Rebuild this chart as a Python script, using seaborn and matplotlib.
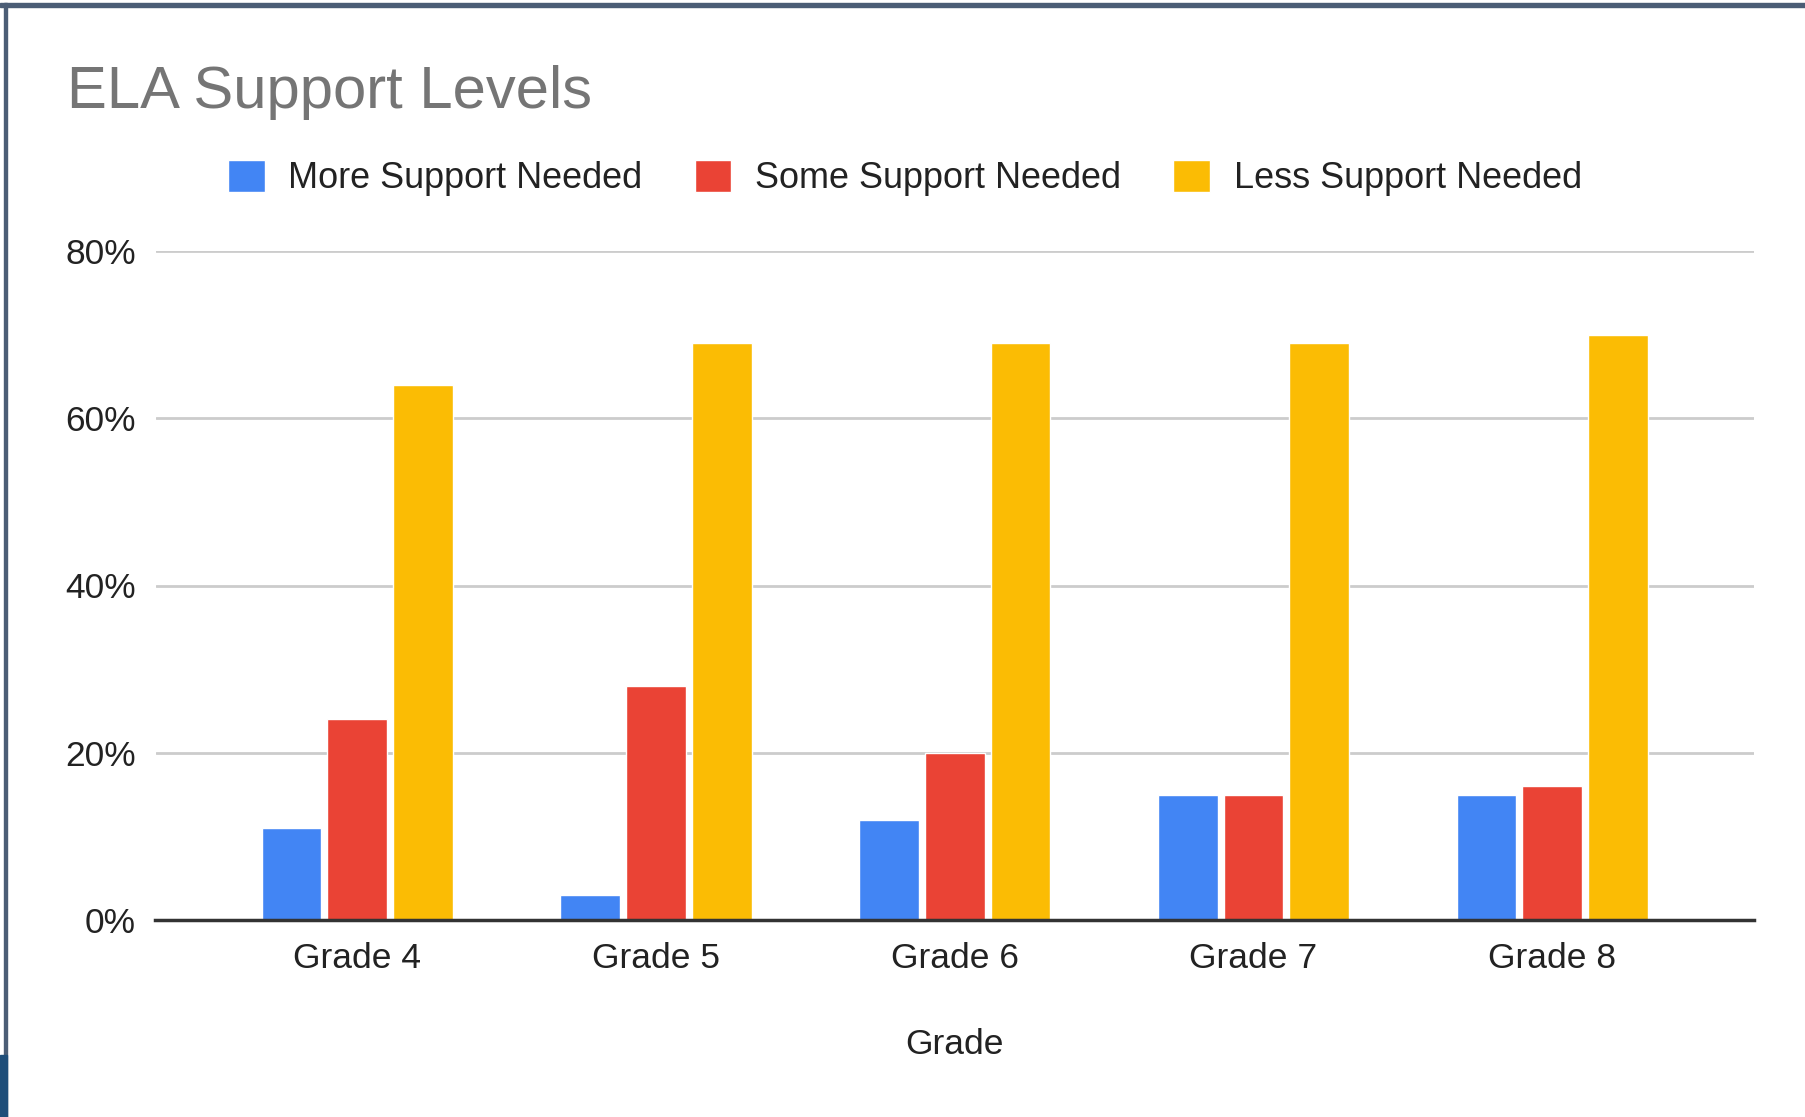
import matplotlib
matplotlib.use("Agg")
import matplotlib.pyplot as plt
import seaborn as sns
import pandas as pd
from matplotlib.patches import Rectangle
from matplotlib.ticker import FuncFormatter

grades = ["Grade 4", "Grade 5", "Grade 6", "Grade 7", "Grade 8"]
series = ["More Support Needed", "Some Support Needed", "Less Support Needed"]
more_support = [11, 3, 12, 15, 15]
some_support = [24, 28, 20, 15, 16]
less_support = [64, 69, 69, 69, 70]
colors = ["#4285F4", "#EA4335", "#FBBC04"]
yticks = [0, 20, 40, 60, 80]

rows = []
for s, vals in zip(series, [more_support, some_support, less_support]):
    for g, v in zip(grades, vals):
        rows.append({"Grade": g, "Series": s, "Value": v})
df = pd.DataFrame(rows)

sns.set_theme(style="white")
plt.rcParams['font.family'] = ['Liberation Sans', 'DejaVu Sans']

W, H = 1806, 1117
fig = plt.figure(figsize=(W / 100, H / 100), dpi=100)
ax = fig.add_axes([155.5 / W, 1 - 920 / H, (1754 - 155.5) / W, (920 - 251) / H])

sns.barplot(data=df, x="Grade", y="Value", hue="Series", hue_order=series,
            order=grades, palette=colors, width=0.66, gap=0.09,
            saturation=1, ax=ax, legend=True, errorbar=None)

ax.set_ylim(0, 80)
ax.set_xlim(-0.675, 4.675)
ax.set_yticks(yticks)
ax.yaxis.set_major_formatter(FuncFormatter(lambda v, p: f"{int(v)}%"))
ax.grid(axis="y", color="#CCCCCC", linewidth=2)
ax.set_axisbelow(True)
for sp in ["left", "right", "top"]:
    ax.spines[sp].set_visible(False)
ax.spines["bottom"].set_color("#333333")
ax.spines["bottom"].set_linewidth(2.5)
ax.spines["bottom"].set_zorder(5)
ax.tick_params(axis="both", length=0, labelsize=25.5, labelcolor="#222222")
ax.tick_params(axis="y", pad=14)
ax.tick_params(axis="x", pad=16)
ax.set_ylabel("")
ax.set_xlabel("Grade", fontsize=25.5, color="#222222", va="center")
ax.xaxis.set_label_coords(0.5, (920 - 1045) / (920 - 251))

handles, labels = ax.get_legend_handles_labels()
ax.get_legend().remove()
fig.legend(handles, labels, loc="center", bbox_to_anchor=(905 / W, 1 - 178 / H),
           ncol=3, frameon=False, fontsize=25.9, handlelength=1.02,
           handleheight=1.02, handletextpad=0.66, columnspacing=1.45,
           labelcolor="#222222")

fig.text(67 / W, 1 - 93 / H, "ELA Support Levels", fontsize=43, color="#757575",
         ha="left", va="center")

# frame decoration
fig.patches.append(Rectangle((0, 1 - 7 / H), 1, 4 / H, transform=fig.transFigure,
                             color="#4B5D75", zorder=10))
fig.patches.append(Rectangle((4 / W, 0), 3.5 / W, 1 - 3 / H, transform=fig.transFigure,
                             color="#4B5D75", zorder=10))
fig.patches.append(Rectangle((0, 0), 7 / W, 62 / H, transform=fig.transFigure,
                             color="#1F4E79", zorder=11))

fig.savefig("out.png", dpi=100)
